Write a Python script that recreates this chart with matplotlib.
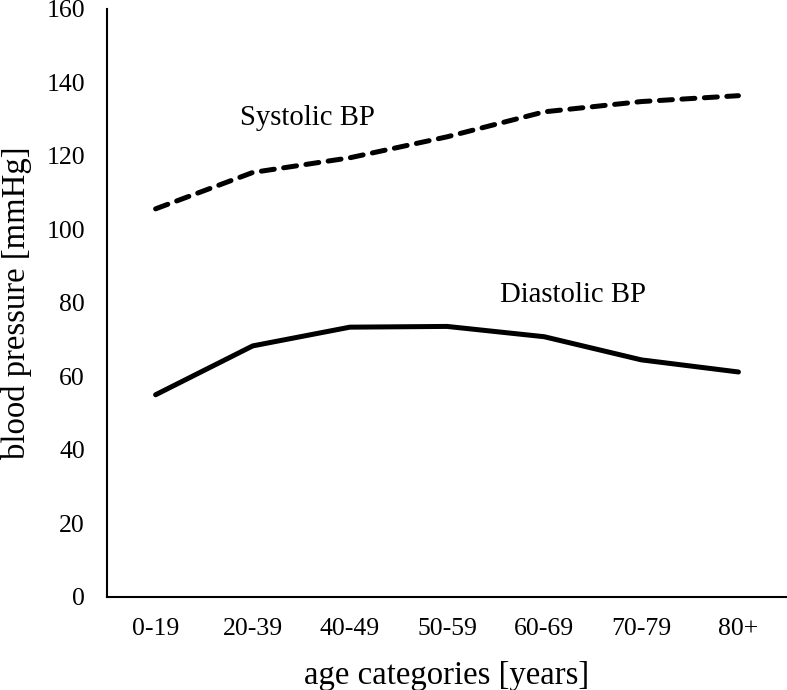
import matplotlib
matplotlib.use('Agg')
import matplotlib.pyplot as plt

# age groups and mean blood pressure
age_groups = ['0-19', '20-39', '40-49', '50-59', '60-69', '70-79', '80+']
systolic = [105.6, 115.5, 119.5, 125.2, 132.0, 134.8, 136.4]
diastolic = [55.0, 68.3, 73.4, 73.6, 70.8, 64.5, 61.2]
y_ticks = [0, 20, 40, 60, 80, 100, 120, 140, 160]

plt.rcParams['font.family'] = ['Liberation Serif', 'DejaVu Serif']

fig = plt.figure(figsize=(7.87, 6.9), dpi=100)
ax = fig.add_axes([0.136, 0.135, 0.864, 0.852])

x = list(range(len(age_groups)))

# systolic as a thick dashed line, diastolic solid
ax.plot(x, systolic, color='black', linewidth=3.6, linestyle=(0, (2.6, 1.9)),
        dash_capstyle='round', solid_capstyle='round')
ax.plot(x, diastolic, color='black', linewidth=3.6, solid_capstyle='round')

ax.text(1.56, 130.3, 'Systolic BP', fontsize=20.7, ha='center', va='center')
ax.text(4.3, 82.2, 'Diastolic BP', fontsize=20.7, ha='center', va='center')

ax.set_xlim(-0.5, 6.5)
ax.set_ylim(0, 160)
ax.set_xticks(x)
ax.set_xticklabels(age_groups)
ax.set_yticks(y_ticks)
ax.tick_params(axis='both', length=0, labelsize=18.5)
ax.tick_params(axis='y', pad=16)
ax.tick_params(axis='x', pad=15)

for side in ['top', 'right']:
    ax.spines[side].set_visible(False)
for side in ['left', 'bottom']:
    ax.spines[side].set_linewidth(1.5)
    ax.spines[side].set_color('black')

ax.set_xlabel('age categories [years]', fontsize=23.6, labelpad=15)
ax.set_ylabel('blood pressure [mmHg]', fontsize=23.6, labelpad=10)

fig.savefig('out.png', dpi=100)
plt.close(fig)
